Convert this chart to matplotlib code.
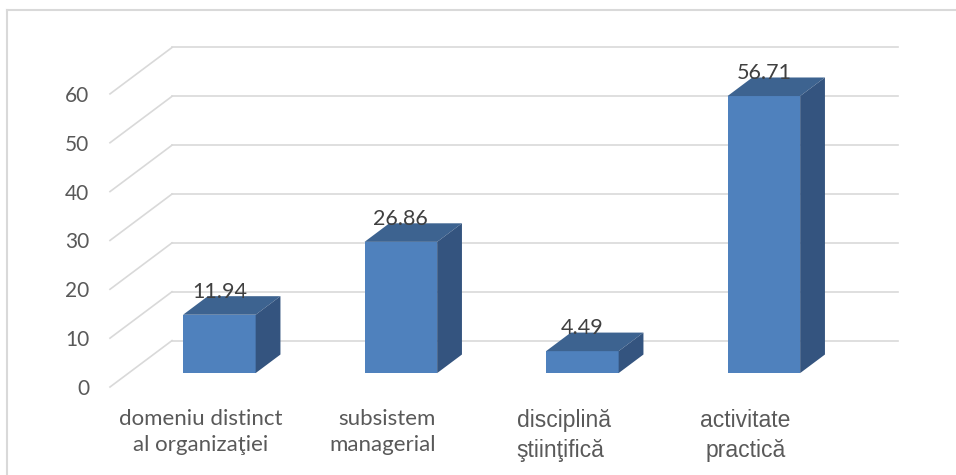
import numpy as np
import matplotlib.pyplot as plt
from matplotlib.patches import Polygon
from matplotlib.lines import Line2D

categories = ['domeniu distinct\nal organizaţiei', 'subsistem\nmanagerial',
              'disciplină\nştiinţifică', 'activitate\npractică']
cat_fonts = ['Lato', 'Lato', 'Liberation Sans', 'Liberation Sans']
cat_sizes = [16, 16, 16.5, 16.5]
cat_align = ['center', 'right', 'left', 'center']
values = [11.94, 26.86, 4.49, 56.71]
y_ticks = [0, 10, 20, 30, 40, 50, 60]

# pseudo-3D geometry (in data units)
DX, DY = 0.3416, 9.5      # depth offset of back wall
D0, D1 = 0.3, 0.7         # bar depth span (fraction of wall depth)
BW = 0.40                 # bar width

front_c = '#4f81bd'
top_c = '#3d6390'
side_c = '#34547f'
grid_c = '#d9d9d9'

fig = plt.figure(figsize=(9.56, 4.75), dpi=100)
# axes: x=-0.5 at px 110, y=0 at px 387 (from top)
ax = fig.add_axes([110 / 956, (475 - 387) / 475, 788 / 956, 70 * 4.885 / 475])
ax.set_xlim(-0.5, 3.5 + DX)
ax.set_ylim(0, 70)
for s in ax.spines.values():
    s.set_visible(False)
ax.set_facecolor('none')

# back wall gridlines + side wall diagonals
for v in y_ticks:
    ax.plot([-0.5 + DX, 3.5 + DX], [v + DY, v + DY], color=grid_c, lw=1.2, zorder=1, clip_on=False)
    ax.plot([-0.5, -0.5 + DX], [v, v + DY], color=grid_c, lw=1.2, zorder=1, clip_on=False)

x = np.arange(len(values))
xf = x + D0 * DX
base = D0 * DY
bars = ax.bar(xf, values, width=BW, bottom=base, color=front_c, zorder=3)

ddx = (D1 - D0) * DX
ddy = (D1 - D0) * DY
for xc, v in zip(xf, values):
    xl, xr = xc - BW / 2, xc + BW / 2
    top = base + v
    ax.add_patch(Polygon([(xl, top), (xr, top), (xr + ddx, top + ddy), (xl + ddx, top + ddy)],
                         closed=True, facecolor=top_c, edgecolor='none', zorder=3))
    ax.add_patch(Polygon([(xr, base), (xr, top), (xr + ddx, top + ddy), (xr + ddx, base + ddy)],
                         closed=True, facecolor=side_c, edgecolor='none', zorder=3))
    ax.text(xc, top + ddy - 0.3, f'{v:.2f}', ha='center', va='baseline',
            fontsize=15.5, family='Lato', color='#404040', zorder=4)

ax.set_yticks(y_ticks)
ax.set_yticklabels([str(t) for t in y_ticks], fontsize=15, family='Lato', color='#595959')
ax.tick_params(axis='y', length=0, pad=15)

ax.set_xticks(x)
ax.set_xticklabels(categories, color='#595959', linespacing=1.35)
for lab, f, fs, al in zip(ax.get_xticklabels(), cat_fonts, cat_sizes, cat_align):
    lab.set_family(f)
    lab.set_fontsize(fs)
    lab.set_multialignment(al)
ax.tick_params(axis='x', length=0, pad=16)

# chart frame (left and top edges visible)
fig.add_artist(Line2D([7 / 956, 7 / 956], [0, 1 - 10 / 475], color=grid_c, lw=1.5))
fig.add_artist(Line2D([7 / 956, 1], [1 - 10 / 475, 1 - 10 / 475], color=grid_c, lw=1.5))

fig.savefig('out.png', dpi=100, facecolor='white')
